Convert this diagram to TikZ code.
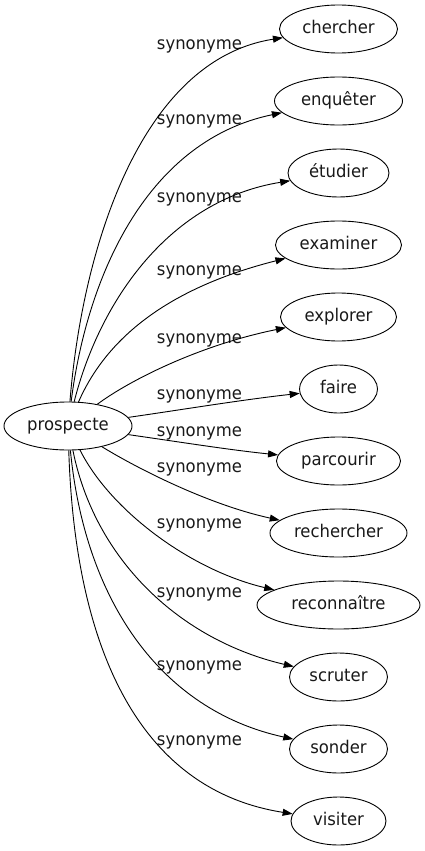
\documentclass[tikz,border=0pt]{standalone}
\usepackage{fontspec}
\setmainfont{DejaVu Sans}[FakeStretch=0.94]
\usetikzlibrary{shapes.geometric,arrows.meta}
\begin{document}
\begin{tikzpicture}[x=1bp,y=-1bp,
  every node/.style={font=\fontsize{17.5bp}{20bp}\selectfont, text=black!90},
  term/.style={draw=black, ellipse, line width=0.9bp, inner sep=0pt, minimum height=48bp, text height=12.5bp, text depth=3.5bp},
  lab/.style={anchor=base, inner sep=0pt},
  syn/.style={draw=black, line width=0.9bp, -{Triangle[length=10bp,width=7bp]}}]
\useasboundingbox (0,0) rectangle (424,851);
\node[term, minimum width=128bp] (p) at (68,426) {prospecte};
\node[term, minimum width=118bp] (t1) at (338.5,29) {chercher};
\node[term, minimum width=128bp] (t2) at (338.5,101) {enquêter};
\node[term, minimum width=101bp] (t3) at (338.5,173) {étudier};
\node[term, minimum width=126bp] (t4) at (338.5,245) {examiner};
\node[term, minimum width=116bp] (t5) at (338.5,317) {explorer};
\node[term, minimum width=78bp] (t6) at (338.5,389) {faire};
\node[term, minimum width=124bp] (t7) at (338.5,461) {parcourir};
\node[term, minimum width=137bp] (t8) at (338.5,533) {rechercher};
\node[term, minimum width=163bp] (t9) at (338.5,605) {reconnaître};
\node[term, minimum width=98bp] (t10) at (338.5,677) {scruter};
\node[term, minimum width=98bp] (t11) at (338.5,749) {sonder};
\node[term, minimum width=95bp] (t12) at (338.5,821) {visiter};
\node[lab] (l1) at (199.5,49.5) {synonyme};
\node[lab] (l2) at (199.5,124.5) {synonyme};
\node[lab] (l3) at (199.5,202.5) {synonyme};
\node[lab] (l4) at (199.5,275.5) {synonyme};
\node[lab] (l5) at (199.5,343.5) {synonyme};
\node[lab] (l6) at (199.5,399.5) {synonyme};
\node[lab] (l7) at (199.5,436.5) {synonyme};
\node[lab] (l8) at (199.5,472.5) {synonyme};
\node[lab] (l9) at (199.5,528.5) {synonyme};
\node[lab] (l10) at (199.5,597.5) {synonyme};
\node[lab] (l11) at (199.5,670.5) {synonyme};
\node[lab] (l12) at (199.5,745.5) {synonyme};
\draw[syn] (p) .. controls (82,250) and (140,60) .. (t1);
\draw[syn] (p) .. controls (88,270) and (150,140) .. (t2);
\draw[syn] (p) .. controls (100,300) and (170,200) .. (t3);
\draw[syn] (p) .. controls (110,330) and (180,285) .. (t4);
\draw[syn] (p) .. controls (130,380) and (200,345) .. (t5);
\draw[syn] (p) .. controls (180,410) and (240,400) .. (t6);
\draw[syn] (p) .. controls (180,442) and (230,450) .. (t7);
\draw[syn] (p) .. controls (140,470) and (210,505) .. (t8);
\draw[syn] (p) .. controls (110,510) and (190,570) .. (t9);
\draw[syn] (p) .. controls (95,560) and (180,640) .. (t10);
\draw[syn] (p) .. controls (85,600) and (160,710) .. (t11);
\draw[syn] (p) .. controls (75,650) and (140,790) .. (t12);
\end{tikzpicture}
\end{document}
